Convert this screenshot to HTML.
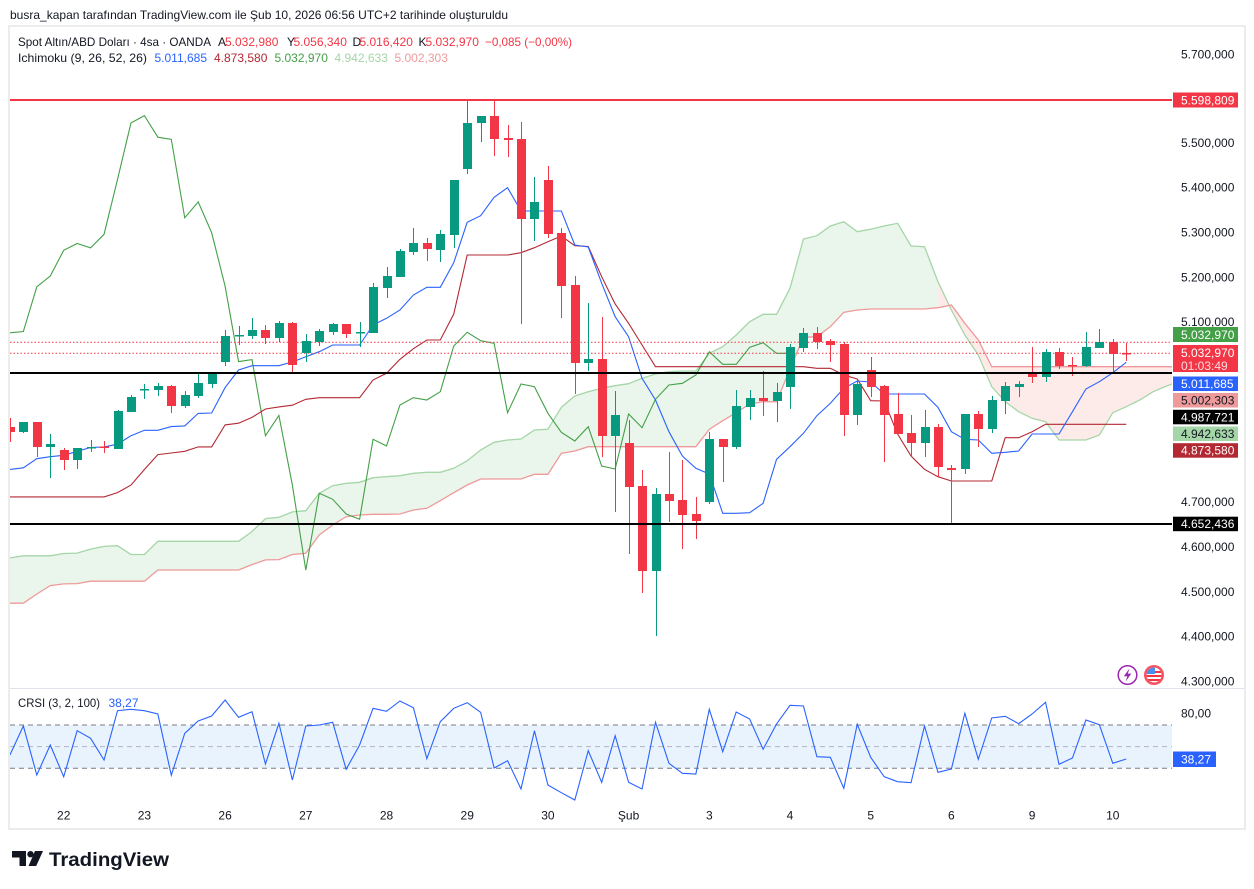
<!DOCTYPE html>
<html><head><meta charset="utf-8"><style>
html,body{margin:0;padding:0;background:#fff;overflow:hidden}
svg{display:block}
text{font-family:"Liberation Sans","DejaVu Sans",sans-serif}
</style></head><body>
<svg width="1254" height="889" viewBox="0 0 1254 889" xmlns="http://www.w3.org/2000/svg">
<defs>
<clipPath id="cm"><rect x="10" y="27" width="1162" height="660"/></clipPath>
<clipPath id="cc"><rect x="10" y="689" width="1162" height="114"/></clipPath>
<clipPath id="fl"><circle cx="1154" cy="675" r="7.5"/></clipPath>
</defs>
<rect width="1254" height="889" fill="#fff"/>
<text x="10" y="19" font-size="12" fill="#131722" textLength="498" lengthAdjust="spacingAndGlyphs">busra_kapan tarafından TradingView.com ile Şub 10, 2026 06:56 UTC+2 tarihinde oluşturuldu</text>
<rect x="9" y="26" width="1236" height="803" fill="none" stroke="#ececec" stroke-width="2"/>
<line x1="10" y1="688.5" x2="1244" y2="688.5" stroke="#e0e3eb" stroke-width="1"/>

<g clip-path="url(#cm)">
<path fill="#eaf5eb" d="M9.9,557.9 L23.35,555.8 36.8,555.8 50.25,555.8 63.7,553.5 77.15,553.1 90.6,549.1 104.05,546.4 117.5,545.7 130.95,554.5 144.4,554.5 157.85,541.3 171.3,541.3 184.75,541.3 198.2,541.3 211.65,541.3 225.1,541.3 238.55,541.3 252,531.5 265.45,518.6 278.9,517.3 292.35,511.9 305.8,510.7 319.25,493.3 332.7,485.7 346.15,483.3 359.6,482.3 373.05,477.7 386.5,476.7 399.95,475.7 413.4,473.3 426.85,472.3 440.3,472.3 453.75,468.3 467.2,460.7 480.65,450 494.1,442.3 507.55,440 521,439 534.45,430 547.9,429.3 561.35,407.3 574.8,396 588.25,391.7 601.7,388.3 615.15,385.7 628.6,383.7 642.05,378.3 655.5,374 668.95,371.7 682.4,371 695.85,371 709.3,353.3 722.75,346.7 736.2,335 749.65,321.7 763.1,314.3 776.55,314.3 790,288.3 803.45,239 816.9,235.7 830.35,226 843.8,221.7 857.25,231.7 870.7,229.3 884.15,226 897.6,223.3 911.05,246 924.5,246.7 937.95,281.7 L937.95,307.7 924.5,309 911.05,309 897.6,309 884.15,309 870.7,309 857.25,310 843.8,312.3 830.35,326.7 816.9,336.7 803.45,337.3 790,369 776.55,401.7 763.1,401.7 749.65,404 736.2,412.7 722.75,420.7 709.3,429.3 695.85,446.7 682.4,446.7 668.95,446.7 655.5,446.7 642.05,446.7 628.6,446.7 615.15,446.7 601.7,446.7 588.25,446.7 574.8,451 561.35,453.3 547.9,474.3 534.45,474.3 521,479 507.55,479 494.1,479 480.65,479 467.2,485 453.75,492.7 440.3,500.7 426.85,508.3 413.4,510 399.95,514 386.5,514.3 373.05,514.3 359.6,515 346.15,516.7 332.7,525 319.25,535 305.8,553.3 292.35,554.5 278.9,559.6 265.45,559.9 252,564.6 238.55,570 225.1,570 211.65,570 198.2,570 184.75,570 171.3,570 157.85,570 144.4,581.2 130.95,581.2 117.5,581.2 104.05,581.2 90.6,581.2 77.15,583.6 63.7,583.9 50.25,585.6 36.8,594 23.35,603.2 9.9,603.2 Z"/>
<path fill="#fdebea" d="M937.95,281.7 L951.4,310 964.85,335 978.3,355 991.75,386.7 1005.2,401.7 1018.65,411.7 1032.1,418.3 1045.55,421.7 1059,440 1072.45,440 1085.9,440 1099.35,435 1112.8,412.7 1126.25,406.7 1139.7,400 1153.15,391.7 1166.6,386 1180.05,381 L1180.05,366.7 991.75,366.7 978.3,340 964.85,323.3 951.4,305 937.95,307.7 Z"/>
<polyline fill="none" stroke="#a5d6a7" stroke-width="1.3" points="9.9,557.9 23.35,555.8 36.8,555.8 50.25,555.8 63.7,553.5 77.15,553.1 90.6,549.1 104.05,546.4 117.5,545.7 130.95,554.5 144.4,554.5 157.85,541.3 171.3,541.3 184.75,541.3 198.2,541.3 211.65,541.3 225.1,541.3 238.55,541.3 252,531.5 265.45,518.6 278.9,517.3 292.35,511.9 305.8,510.7 319.25,493.3 332.7,485.7 346.15,483.3 359.6,482.3 373.05,477.7 386.5,476.7 399.95,475.7 413.4,473.3 426.85,472.3 440.3,472.3 453.75,468.3 467.2,460.7 480.65,450 494.1,442.3 507.55,440 521,439 534.45,430 547.9,429.3 561.35,407.3 574.8,396 588.25,391.7 601.7,388.3 615.15,385.7 628.6,383.7 642.05,378.3 655.5,374 668.95,371.7 682.4,371 695.85,371 709.3,353.3 722.75,346.7 736.2,335 749.65,321.7 763.1,314.3 776.55,314.3 790,288.3 803.45,239 816.9,235.7 830.35,226 843.8,221.7 857.25,231.7 870.7,229.3 884.15,226 897.6,223.3 911.05,246 924.5,246.7 937.95,281.7 951.4,310 964.85,335 978.3,355 991.75,386.7 1005.2,401.7 1018.65,411.7 1032.1,418.3 1045.55,421.7 1059,440 1072.45,440 1085.9,440 1099.35,435 1112.8,412.7 1126.25,406.7 1139.7,400 1153.15,391.7 1166.6,386 1180.05,381"/>
<polyline fill="none" stroke="#ef9a9a" stroke-width="1.3" points="9.9,603.2 23.35,603.2 36.8,594 50.25,585.6 63.7,583.9 77.15,583.6 90.6,581.2 144.4,581.2 157.85,570 238.55,570 252,564.6 265.45,559.9 278.9,559.6 292.35,554.5 305.8,553.3 319.25,535 332.7,525 346.15,516.7 359.6,515 373.05,514.3 386.5,514.3 399.95,514 413.4,510 426.85,508.3 440.3,500.7 453.75,492.7 467.2,485 480.65,479 521,479 534.45,474.3 547.9,474.3 561.35,453.3 574.8,451 588.25,446.7 695.85,446.7 709.3,429.3 722.75,420.7 736.2,412.7 749.65,404 763.1,401.7 776.55,401.7 790,369 803.45,337.3 816.9,336.7 830.35,326.7 843.8,312.3 857.25,310 870.7,309 924.5,309 937.95,307.7 951.4,305 964.85,323.3 978.3,340 991.75,366.7 1180.05,366.7"/>
<polyline fill="none" stroke="#43a047" stroke-width="1.1" points="9.9,332.8 23.35,331.5 36.8,286.8 50.25,276 63.7,250.3 77.15,243.5 90.6,247.9 104.05,234.3 117.5,179.5 130.95,123 144.4,115.6 157.85,137.2 171.3,139.3 184.75,217.8 198.2,201.9 211.65,232.7 225.1,286.1 238.55,361.6 252,359.6 265.45,435.7 278.9,415.4 292.35,485 305.8,570 319.25,493.3 332.7,499.3 346.15,514 359.6,519.3 373.05,439.3 386.5,446 399.95,405 413.4,397.7 426.85,400 440.3,391.7 453.75,346 467.2,332.3 480.65,340.7 494.1,343.3 507.55,412.7 521,384 534.45,386.7 547.9,413.3 561.35,432.3 574.8,441 588.25,426.7 601.7,466 615.15,469 628.6,414 642.05,427.7 655.5,399.3 668.95,385 682.4,383.3 695.85,375 709.3,351.7 722.75,364.3 736.2,364.3 749.65,347.3 763.1,342.7 776.55,353.3 790,353.3"/>
<polyline fill="none" stroke="#b22833" stroke-width="1.1" points="9.9,496.9 104.05,496.9 117.5,492.6 130.95,485.1 144.4,469.5 157.85,454.6 171.3,453 184.75,451.3 198.2,446.9 211.65,446.9 225.1,424.9 238.55,423.2 252,417.4 265.45,409 278.9,406.9 292.35,405.2 305.8,399.3 319.25,397.7 359.6,397.7 373.05,380 386.5,373.3 399.95,359.3 413.4,348.7 426.85,340 440.3,340 453.75,314 467.2,255 507.55,255 521,252.7 534.45,247.7 547.9,241.7 561.35,236 574.8,245.7 588.25,246.5 601.7,276.7 615.15,304 628.6,323.3 642.05,345 655.5,366.7 803.45,366.7 816.9,368.3 830.35,368.3 843.8,375 857.25,379 870.7,400.7 884.15,401 897.6,434 911.05,456 924.5,469.3 937.95,476.7 951.4,481 991.75,481 1005.2,437.7 1018.65,437.7 1032.1,431.7 1045.55,424.3 1126.25,424.3"/>
<polyline fill="none" stroke="#2962ff" stroke-width="1.1" points="9.9,469.5 23.35,467.8 36.8,458.7 50.25,456.7 63.7,455.3 77.15,451.3 90.6,447.5 104.05,446.9 117.5,444.2 130.95,435.7 144.4,430.3 157.85,430.3 171.3,426.6 184.75,425.9 198.2,413.4 211.65,413 225.1,387.6 238.55,370 252,365.7 265.45,365.7 278.9,365.7 292.35,362 305.8,356.7 319.25,351.7 332.7,345 346.15,345 359.6,345 373.05,325 386.5,318.3 399.95,310 413.4,295 426.85,287.3 440.3,287.3 453.75,262.7 467.2,222.3 480.65,215.7 494.1,197.3 507.55,187.7 521,211 534.45,211 547.9,211 561.35,211 574.8,245 588.25,247 601.7,283.3 615.15,316.7 628.6,336.7 642.05,378.3 655.5,400 668.95,431.7 682.4,456 695.85,468.3 709.3,474 722.75,513.3 736.2,513.3 749.65,512.7 763.1,503.3 776.55,459.3 790,446.7 803.45,433.3 816.9,415.7 830.35,403.3 843.8,388.3 857.25,381 870.7,382 884.15,394 897.6,394 911.05,394 924.5,394 937.95,407.3 951.4,431.7 964.85,439.3 978.3,440 991.75,453.3 1005.2,452.3 1018.65,451 1032.1,434 1045.55,434 1059,434 1072.45,411.7 1085.9,389 1099.35,381.7 1112.8,372.7 1126.25,362.3"/>
<line x1="10" y1="342.3" x2="1172" y2="342.3" stroke="#f23645" stroke-width="1" stroke-dasharray="1.5 2"/>
<line x1="10" y1="353.3" x2="1172" y2="353.3" stroke="#f23645" stroke-width="1" stroke-dasharray="1.5 2"/>

<g fill="#089981">
<rect x="19" y="422" width="9" height="10"/><rect x="23" y="422" width="1" height="11"/>
<rect x="46" y="444" width="9" height="3"/><rect x="50" y="434" width="1" height="44"/>
<rect x="73" y="448" width="9" height="12"/><rect x="77" y="448" width="1" height="21"/>
<rect x="87" y="447" width="9" height="1.5"/><rect x="91" y="440" width="1" height="12"/>
<rect x="114" y="411" width="9" height="38"/><rect x="118" y="410" width="1" height="39"/>
<rect x="127" y="397" width="9" height="15"/><rect x="131" y="395" width="1" height="17"/>
<rect x="140" y="389" width="9" height="1.5"/><rect x="144" y="384" width="1" height="15"/>
<rect x="154" y="386" width="9" height="4"/><rect x="158" y="383" width="1" height="13"/>
<rect x="181" y="395" width="9" height="11"/><rect x="185" y="391" width="1" height="17"/>
<rect x="194" y="383" width="9" height="13"/><rect x="198" y="373" width="1" height="25"/>
<rect x="208" y="374" width="9" height="10"/><rect x="212" y="373" width="1" height="15"/>
<rect x="221" y="336" width="9" height="26"/><rect x="225" y="330" width="1" height="36"/>
<rect x="235" y="335" width="9" height="1.5"/><rect x="239" y="326" width="1" height="19"/>
<rect x="248" y="330" width="9" height="6"/><rect x="252" y="318" width="1" height="21"/>
<rect x="275" y="323" width="9" height="15"/><rect x="279" y="321" width="1" height="21"/>
<rect x="302" y="341" width="9" height="12"/><rect x="306" y="334" width="1" height="28"/>
<rect x="315" y="331" width="9" height="11"/><rect x="319" y="329" width="1" height="17"/>
<rect x="329" y="324" width="9" height="8"/><rect x="333" y="323" width="1" height="12"/>
<rect x="356" y="332" width="9" height="1.5"/><rect x="360" y="322" width="1" height="25"/>
<rect x="369" y="287" width="9" height="46"/><rect x="373" y="283" width="1" height="50"/>
<rect x="383" y="276" width="9" height="12"/><rect x="387" y="267" width="1" height="31"/>
<rect x="396" y="251" width="9" height="26"/><rect x="400" y="249" width="1" height="28"/>
<rect x="409" y="243" width="9" height="9"/><rect x="413" y="228" width="1" height="27"/>
<rect x="436" y="234" width="9" height="16"/><rect x="440" y="230" width="1" height="32"/>
<rect x="450" y="180" width="9" height="55"/><rect x="454" y="180" width="1" height="68"/>
<rect x="463" y="123" width="9" height="46"/><rect x="467" y="99" width="1" height="75"/>
<rect x="477" y="116" width="9" height="7"/><rect x="481" y="116" width="1" height="26"/>
<rect x="530" y="202" width="9" height="17"/><rect x="534" y="177" width="1" height="64"/>
<rect x="584" y="359" width="9" height="4"/><rect x="588" y="303" width="1" height="68"/>
<rect x="611" y="415" width="9" height="21"/><rect x="615" y="391" width="1" height="121"/>
<rect x="652" y="494" width="9" height="77"/><rect x="656" y="488" width="1" height="148"/>
<rect x="705" y="439" width="9" height="63"/><rect x="709" y="432" width="1" height="72"/>
<rect x="732" y="406" width="9" height="41"/><rect x="736" y="390" width="1" height="59"/>
<rect x="746" y="398" width="9" height="9"/><rect x="750" y="390" width="1" height="30"/>
<rect x="773" y="392" width="9" height="9"/><rect x="777" y="383" width="1" height="39"/>
<rect x="786" y="347" width="9" height="40"/><rect x="790" y="344" width="1" height="65"/>
<rect x="799" y="333" width="9" height="15"/><rect x="803" y="328" width="1" height="24"/>
<rect x="853" y="384" width="9" height="31"/><rect x="857" y="380" width="1" height="45"/>
<rect x="921" y="427" width="9" height="16"/><rect x="925" y="410" width="1" height="47"/>
<rect x="961" y="414" width="9" height="55"/><rect x="965" y="414" width="1" height="60"/>
<rect x="988" y="400" width="9" height="29"/><rect x="992" y="396" width="1" height="37"/>
<rect x="1001" y="386" width="9" height="15"/><rect x="1005" y="382" width="1" height="32"/>
<rect x="1015" y="384" width="9" height="3"/><rect x="1019" y="381" width="1" height="16"/>
<rect x="1042" y="352" width="9" height="25"/><rect x="1046" y="349" width="1" height="33"/>
<rect x="1082" y="347" width="9" height="19"/><rect x="1086" y="332" width="1" height="35"/>
<rect x="1095" y="342" width="9" height="6"/><rect x="1099" y="329" width="1" height="19"/>
</g>
<g fill="#f23645">
<rect x="6" y="427" width="9" height="5"/><rect x="10" y="418" width="1" height="24"/>
<rect x="33" y="422" width="9" height="25"/><rect x="37" y="422" width="1" height="35"/>
<rect x="60" y="450" width="9" height="10"/><rect x="64" y="448" width="1" height="22"/>
<rect x="100" y="446.5" width="9" height="1.5"/><rect x="104" y="441" width="1" height="12"/>
<rect x="167" y="386" width="9" height="20"/><rect x="171" y="385" width="1" height="28"/>
<rect x="261" y="330" width="9" height="8"/><rect x="265" y="325" width="1" height="19"/>
<rect x="288" y="323" width="9" height="42"/><rect x="292" y="322" width="1" height="52"/>
<rect x="342" y="324" width="9" height="10"/><rect x="346" y="324" width="1" height="14"/>
<rect x="423" y="243" width="9" height="6"/><rect x="427" y="238" width="1" height="23"/>
<rect x="490" y="116" width="9" height="23"/><rect x="494" y="100" width="1" height="56"/>
<rect x="504" y="138" width="9" height="2"/><rect x="508" y="125" width="1" height="32"/>
<rect x="517" y="139" width="9" height="80"/><rect x="521" y="122" width="1" height="202"/>
<rect x="544" y="180" width="9" height="54"/><rect x="548" y="166" width="1" height="72"/>
<rect x="557" y="233" width="9" height="53"/><rect x="561" y="228" width="1" height="90"/>
<rect x="571" y="285" width="9" height="78"/><rect x="575" y="276" width="1" height="118"/>
<rect x="598" y="359" width="9" height="77"/><rect x="602" y="317" width="1" height="140"/>
<rect x="625" y="443" width="9" height="44"/><rect x="629" y="420" width="1" height="134"/>
<rect x="638" y="486" width="9" height="85"/><rect x="642" y="470" width="1" height="123"/>
<rect x="665" y="494" width="9" height="7"/><rect x="669" y="452" width="1" height="70"/>
<rect x="678" y="500" width="9" height="15"/><rect x="682" y="460" width="1" height="89"/>
<rect x="692" y="514" width="9" height="7"/><rect x="696" y="497" width="1" height="42"/>
<rect x="719" y="439" width="9" height="8"/><rect x="723" y="439" width="1" height="43"/>
<rect x="759" y="398" width="9" height="3"/><rect x="763" y="371" width="1" height="45"/>
<rect x="813" y="333" width="9" height="9"/><rect x="817" y="327" width="1" height="22"/>
<rect x="826" y="341" width="9" height="4"/><rect x="830" y="339" width="1" height="23"/>
<rect x="840" y="344" width="9" height="71"/><rect x="844" y="342" width="1" height="94"/>
<rect x="867" y="370" width="9" height="17"/><rect x="871" y="357" width="1" height="40"/>
<rect x="880" y="386" width="9" height="29"/><rect x="884" y="385" width="1" height="77"/>
<rect x="894" y="414" width="9" height="20"/><rect x="898" y="393" width="1" height="41"/>
<rect x="907" y="433" width="9" height="10"/><rect x="911" y="415" width="1" height="42"/>
<rect x="934" y="427" width="9" height="40"/><rect x="938" y="424" width="1" height="53"/>
<rect x="947" y="468" width="9" height="2"/><rect x="951" y="465" width="1" height="58"/>
<rect x="974" y="414" width="9" height="15"/><rect x="978" y="411" width="1" height="36"/>
<rect x="1028" y="373" width="9" height="4"/><rect x="1032" y="347" width="1" height="36"/>
<rect x="1055" y="352" width="9" height="14"/><rect x="1059" y="348" width="1" height="21"/>
<rect x="1068" y="365" width="9" height="1.5"/><rect x="1072" y="357" width="1" height="19"/>
<rect x="1109" y="342" width="9" height="12"/><rect x="1113" y="339" width="1" height="34"/>
<rect x="1122" y="353" width="9" height="1.5"/><rect x="1126" y="343" width="1" height="18"/>
</g>
<rect x="10" y="99" width="1162" height="2" fill="#f23645"/>
<rect x="10" y="372" width="1162" height="2" fill="#000"/>
<rect x="10" y="523" width="1162" height="2" fill="#000"/>
</g>

<!-- legend -->
<g font-size="12">
<text x="18" y="46" fill="#131722" textLength="193" lengthAdjust="spacingAndGlyphs">Spot Altın/ABD Doları · 4sa · OANDA</text>
<text x="218" y="46" fill="#131722">A</text><text x="225" y="46" fill="#f23645">5.032,980</text>
<text x="287" y="46" fill="#131722">Y</text><text x="293.5" y="46" fill="#f23645">5.056,340</text>
<text x="352.5" y="46" fill="#131722">D</text><text x="359.5" y="46" fill="#f23645">5.016,420</text>
<text x="418.5" y="46" fill="#131722">K</text><text x="425.5" y="46" fill="#f23645">5.032,970</text>
<text x="485" y="46" fill="#f23645" textLength="87" lengthAdjust="spacingAndGlyphs">−0,085 (−0,00%)</text>
<text x="18" y="62" fill="#131722" textLength="129" lengthAdjust="spacingAndGlyphs">Ichimoku (9, 26, 52, 26)</text>
<text x="154.5" y="62" fill="#2962ff">5.011,685</text>
<text x="214" y="62" fill="#b22833">4.873,580</text>
<text x="274.5" y="62" fill="#43a047">5.032,970</text>
<text x="334.5" y="62" fill="#a5d6a7">4.942,633</text>
<text x="394.5" y="62" fill="#ef9a9a">5.002,303</text>
</g>

<!-- price axis -->
<g font-size="12" fill="#131722">
<text x="1181" y="58.3">5.700,000</text>
<text x="1181" y="146.9">5.500,000</text>
<text x="1181" y="191.7">5.400,000</text>
<text x="1181" y="236.5">5.300,000</text>
<text x="1181" y="281.3">5.200,000</text>
<text x="1181" y="326.1">5.100,000</text>
<text x="1181" y="506.2">4.700,000</text>
<text x="1181" y="551">4.600,000</text>
<text x="1181" y="595.8">4.500,000</text>
<text x="1181" y="640.6">4.400,000</text>
<text x="1181" y="685.4">4.300,000</text>
</g>
<g font-size="12">
<rect x="1173" y="92.5" width="65" height="15" fill="#f23645"/>
<text x="1181" y="104.3" fill="#fff">5.598,809</text>
<rect x="1173" y="327" width="65" height="15" fill="#43a047"/>
<text x="1181" y="338.8" fill="#fff">5.032,970</text>
<rect x="1173" y="345" width="65" height="27" fill="#f23645"/>
<text x="1181" y="357" fill="#fff">5.032,970</text>
<text x="1181" y="370" fill="#fff" fill-opacity="0.82">01:03:49</text>
<rect x="1173" y="376.5" width="65" height="14.5" fill="#2962ff"/>
<text x="1181" y="388" fill="#fff">5.011,685</text>
<rect x="1173" y="393" width="65" height="14.5" fill="#ef9a9a"/>
<text x="1181" y="404.5" fill="#131722">5.002,303</text>
<rect x="1173" y="409.8" width="65" height="14.5" fill="#000"/>
<text x="1181" y="421.3" fill="#fff">4.987,721</text>
<rect x="1173" y="426.5" width="65" height="14.5" fill="#a5d6a7"/>
<text x="1181" y="438" fill="#131722">4.942,633</text>
<rect x="1173" y="443.2" width="65" height="14.5" fill="#b22833"/>
<text x="1181" y="454.7" fill="#fff">4.873,580</text>
<rect x="1173" y="516.7" width="65" height="14.5" fill="#000"/>
<text x="1181" y="528.2" fill="#fff">4.652,436</text>
</g>

<!-- icons -->
<circle cx="1127.5" cy="675" r="9.3" fill="#fff" stroke="#9c27b0" stroke-width="1.5"/>
<path d="M1129.5,668.5 L1123.8,676.2 L1127.3,676.2 L1125.6,681.5 L1131.3,673.6 L1127.8,673.6 Z" fill="#9c27b0"/>
<circle cx="1154" cy="675" r="10" fill="#f7525f"/>
<g clip-path="url(#fl)">
<rect x="1145" y="666" width="18" height="18" fill="#fff"/>
<rect x="1145" y="671" width="18" height="2" fill="#f23645"/>
<rect x="1145" y="675" width="18" height="2" fill="#f23645"/>
<rect x="1145" y="679" width="18" height="2" fill="#f23645"/>
<rect x="1145" y="683" width="18" height="2" fill="#f23645"/>
<rect x="1145" y="666" width="10" height="8" fill="#4a8ef0"/>
</g>

<!-- CRSI pane -->
<g clip-path="url(#cc)">
<rect x="10" y="725" width="1162" height="43.3" fill="#e8f3fd"/>
<line x1="10" y1="725" x2="1172" y2="725" stroke="#787b86" stroke-width="1" stroke-dasharray="5 4"/>
<line x1="10" y1="746.6" x2="1172" y2="746.6" stroke="#b2b5be" stroke-width="1" stroke-dasharray="5 4"/>
<line x1="10" y1="768.3" x2="1172" y2="768.3" stroke="#787b86" stroke-width="1" stroke-dasharray="5 4"/>
<polyline fill="none" stroke="#2962ff" stroke-width="1.1" points="9.9,755 23.35,726 36.8,775 50.25,745 63.7,776.7 77.15,730.7 90.6,738.3 104.05,760 117.5,710.7 130.95,709.3 144.4,710.7 157.85,714 171.3,775.3 184.75,733.3 198.2,721 211.65,716 225.1,700 238.55,717.3 252,711.7 265.45,764 278.9,723.3 292.35,780 305.8,726 319.25,725 332.7,722.3 346.15,769.3 359.6,745 373.05,708.3 386.5,711.3 399.95,701 413.4,707.7 426.85,758.7 440.3,721.7 453.75,708.3 467.2,702.7 480.65,712.3 494.1,768 507.55,760.7 521,789 534.45,730.7 547.9,785 561.35,792.7 574.8,800 588.25,750.7 601.7,782.3 615.15,735.7 628.6,782.3 642.05,789 655.5,722.3 668.95,763.3 682.4,773.3 695.85,774 709.3,709.3 722.75,751.7 736.2,712 749.65,719 763.1,749.3 776.55,724 790,705.3 803.45,706 816.9,756.7 830.35,757.3 843.8,788.3 857.25,724.3 870.7,757.3 884.15,776.7 897.6,781.7 911.05,782.7 924.5,726 937.95,772.3 951.4,769 964.85,713.3 978.3,759.3 991.75,718 1005.2,716.3 1018.65,723.7 1032.1,714 1045.55,702.3 1059,764.3 1072.45,758 1085.9,720 1099.35,724.7 1112.8,763.3 1126.25,759"/>
</g>
<g font-size="12">
<text x="18" y="707" fill="#131722" textLength="82" lengthAdjust="spacingAndGlyphs">CRSI (3, 2, 100)</text>
<text x="108.5" y="707" fill="#2962ff">38,27</text>
<text x="1181" y="717.3" fill="#131722">80,00</text>
<rect x="1173" y="751.5" width="43" height="15.5" fill="#2962ff"/>
<text x="1181" y="763.5" fill="#fff">38,27</text>
</g>

<!-- time axis -->
<g font-size="12" fill="#131722" text-anchor="middle">
<text x="63.7" y="819.5">22</text>
<text x="144.4" y="819.5">23</text>
<text x="225.1" y="819.5">26</text>
<text x="305.8" y="819.5">27</text>
<text x="386.5" y="819.5">28</text>
<text x="467.2" y="819.5">29</text>
<text x="547.9" y="819.5">30</text>
<text x="628.6" y="819.5">Şub</text>
<text x="709.3" y="819.5">3</text>
<text x="790" y="819.5">4</text>
<text x="870.7" y="819.5">5</text>
<text x="951.4" y="819.5">6</text>
<text x="1032.1" y="819.5">9</text>
<text x="1112.8" y="819.5">10</text>
</g>

<!-- logo -->
<g fill="#131722">
<path d="M12,851 H26 V866 H19.5 V857.5 H12 Z"/>
<circle cx="30.5" cy="854.2" r="3.2"/>
<path d="M35,851 H43 L36.2,866 H28.5 Z"/>
<text x="49" y="866" font-size="19.5" font-weight="bold" textLength="120" lengthAdjust="spacingAndGlyphs">TradingView</text>
</g>
</svg>
</body></html>
